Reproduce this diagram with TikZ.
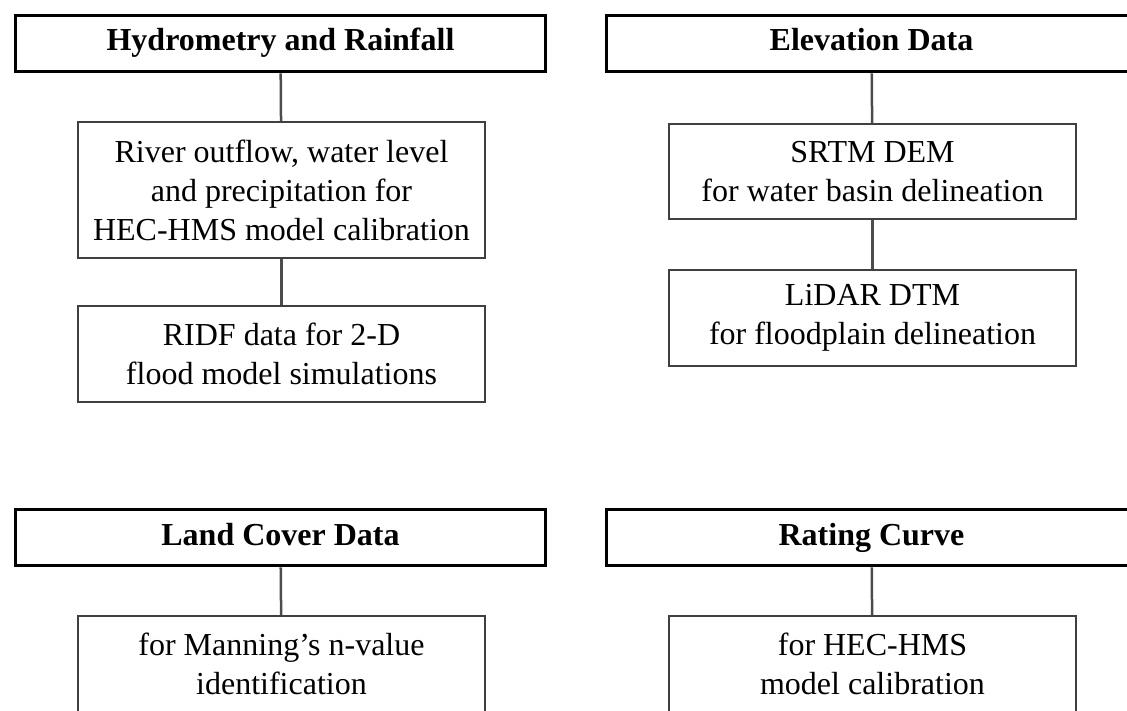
\documentclass[tikz,border=0pt]{standalone}
\usepackage{fontspec}
\setmainfont{Liberation Serif}
\begin{document}
\begin{tikzpicture}[
        x=1pt, y=-1pt,
        font=\fontsize{32}{39}\selectfont,
        head/.style={
            rectangle, draw=black, line width=3.8pt,
            minimum height=56pt, minimum width=530pt,
            text height=22pt, text depth=7pt,
            text centered, font=\fontsize{32}{39}\selectfont\bfseries
        },
        item/.style={
            rectangle, draw=black!75, line width=2.2pt,
            minimum width=407pt, inner sep=0pt,
            align=center
        },
        link/.style={draw=black!70, line width=2.5pt}
    ]

        \clip (0,0) rectangle (1127,711);

        % Column 1: Hydrometry
        \node[head] (hydro) at (280.5,43.5) {Hydrometry and Rainfall};
        \node[item, minimum height=136pt] (flow) at (281.5,190) {
            River outflow, water level\\
            and precipitation for\\
            HEC-HMS model calibration
        };
        \node[item, minimum height=96pt] (ridf) at (281.5,354) {
            RIDF data for 2-D\\
            flood model simulations
        };

        % Column 2: Elevation
        \node[head] (elev) at (871.5,43.5) {Elevation Data};
        \node[item, minimum height=95pt] (srtm) at (872.5,171.5) {
            SRTM DEM\\
            for water basin delineation
        };
        \node[item, minimum height=96pt] (lidar) at (872.5,318) {
            LiDAR DTM\\
            for floodplain delineation
        };

        % Row 2: Land cover and rating curve
        \node[head] (land) at (280.5,537.5) {Land Cover Data};
        \node[item, minimum height=96pt] (manning) at (281.5,664) {
            for Manning’s n-value\\
            identification
        };
        \node[head] (rating) at (871.5,537.5) {Rating Curve};
        \node[item, minimum height=96pt] (curve) at (872.5,664) {
            for HEC-HMS\\
            model calibration
        };

        % Connectors
        \draw[link] (hydro) -- (flow);
        \draw[link] (flow) -- (ridf);
        \draw[link] (elev) -- (srtm);
        \draw[link] (srtm) -- (lidar);
        \draw[link] (land) -- (manning);
        \draw[link] (rating) -- (curve);

    \end{tikzpicture}
\end{document}
